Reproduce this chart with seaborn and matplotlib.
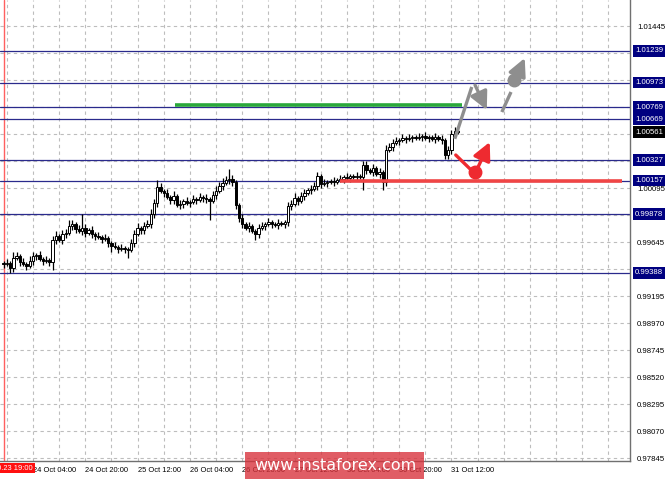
import numpy as np
import pandas as pd
import matplotlib
matplotlib.use('Agg')
import matplotlib.pyplot as plt
import seaborn as sns

# H1 closes, EUR-like pair, bar 0 = 23 Oct 19:00
first_open = 0.99470
closes = [
    0.99462, 0.99470, 0.99428, 0.99512, 0.99528, 0.99478, 0.99462, 0.99445, 0.99487, 0.99528,
    0.99537, 0.99503, 0.99487, 0.99495, 0.99478, 0.99662, 0.99695, 0.99662, 0.99712, 0.99720,
    0.99778, 0.99795, 0.99753, 0.99737, 0.99762, 0.99720, 0.99745, 0.99712, 0.99695, 0.99687,
    0.99670, 0.99678, 0.99637, 0.99612, 0.99603, 0.99587, 0.99595, 0.99587, 0.99578, 0.99637,
    0.99712, 0.99762, 0.99745, 0.99778, 0.99795, 0.99878, 0.99970, 1.00103, 1.00070, 1.00053,
    1.00020, 0.99995, 1.00028, 0.99953, 0.99962, 0.99987, 0.99970, 0.99978, 1.00003, 0.99995,
    1.00020, 1.00012, 1.00003, 0.99987, 1.00037, 1.00070, 1.00112, 1.00137, 1.00162, 1.00170,
    1.00145, 0.99953, 0.99845, 0.99795, 0.99762, 0.99778, 0.99737, 0.99712, 0.99762, 0.99778,
    0.99795, 0.99812, 0.99795, 0.99787, 0.99803, 0.99795, 0.99812, 0.99945, 0.99962, 1.00012,
    0.99987, 1.00028, 1.00053, 1.00078, 1.00087, 1.00112, 1.00195, 1.00128, 1.00137, 1.00145,
    1.00153, 1.00145, 1.00162, 1.00170, 1.00187, 1.00178, 1.00195, 1.00187, 1.00195, 1.00187,
    1.00287, 1.00245, 1.00228, 1.00262, 1.00212, 1.00228, 1.00145, 1.00412, 1.00437, 1.00470,
    1.00487, 1.00495, 1.00511, 1.00503, 1.00511, 1.00520, 1.00511, 1.00520, 1.00528, 1.00511,
    1.00520, 1.00503, 1.00520, 1.00503, 1.00495, 1.00370, 1.00412, 1.00545, 1.00570, 1.00561,
]
# wick lengths in pips
upper_wick = [
    2, 3, 2, 5, 3, 2, 3, 2, 4, 3,
    2, 3, 2, 3, 2, 3, 4, 2, 3, 3,
    5, 3, 2, 3, 12, 3, 2, 3, 2, 3,
    2, 3, 2, 2, 3, 2, 3, 2, 2, 3,
    3, 4, 2, 3, 3, 4, 3, 6, 3, 2,
    3, 2, 4, 2, 3, 2, 3, 2, 3, 2,
    3, 2, 3, 2, 3, 4, 3, 4, 3, 8,
    3, 2, 2, 3, 2, 3, 2, 2, 3, 3,
    2, 3, 2, 2, 3, 2, 2, 3, 3, 4,
    2, 3, 3, 2, 3, 3, 3, 2, 3, 2,
    2, 3, 2, 3, 2, 3, 2, 2, 3, 2,
    3, 3, 2, 3, 2, 3, 2, 4, 3, 3,
    3, 2, 3, 2, 3, 2, 2, 3, 2, 3,
    2, 2, 3, 2, 3, 2, 3, 3, 3, 2,
]
lower_wick = [
    3, 2, 4, 3, 2, 3, 2, 3, 2, 3,
    3, 2, 3, 2, 3, 7, 3, 2, 3, 3,
    2, 3, 3, 2, 3, 3, 2, 3, 3, 2,
    3, 2, 3, 5, 2, 3, 2, 3, 7, 2,
    3, 2, 3, 3, 2, 3, 3, 3, 2, 3,
    2, 3, 3, 2, 3, 3, 2, 3, 2, 3,
    2, 3, 3, 16, 2, 3, 2, 3, 2, 3,
    3, 3, 3, 3, 2, 3, 2, 5, 3, 2,
    3, 2, 3, 2, 3, 2, 3, 3, 3, 2,
    3, 2, 3, 2, 3, 2, 3, 3, 2, 3,
    2, 3, 2, 2, 3, 2, 3, 2, 3, 2,
    11, 3, 2, 3, 2, 3, 7, 3, 2, 3,
    2, 3, 2, 3, 2, 3, 2, 2, 3, 2,
    3, 2, 3, 2, 3, 3, 3, 3, 2, 2,
]

# x labels (every 16 bars starting at bar 9)
time_labels = ['24 Oct 04:00', '24 Oct 20:00', '25 Oct 12:00', '26 Oct 04:00', '26 Oct 20:00',
               '27 Oct 12:00', '30 Oct 04:00', '30 Oct 20:00', '31 Oct 12:00']
price_ticks = [0.97845, 0.98070, 0.98295, 0.98520, 0.98745, 0.98970, 0.99195, 0.99420, 0.99645,
               0.99870, 1.00095, 1.00320, 1.00545, 1.00770, 1.00995, 1.01220, 1.01445]

# support / resistance levels
levels = [1.01239, 1.00973, 1.00769, 1.00669, 1.00327, 1.00157, 0.99878, 0.99388]
current_price = 1.00561

# drawn objects: green / red segments and forecast paths (bar, price)
green_level = 1.00785
green_span = [52.4, 140.2]
red_level = 1.00157
red_span = [102.9, 189.1]
grey_leg1 = [(138.0, 1.00505), (143.2, 1.00937)]
grey_leg2 = [(144.2, 1.00953), (147.8, 1.00745)]
grey_leg3 = [(152.4, 1.00728), (155.2, 1.00895)]
grey_dot = (156.1, 1.00995)
grey_leg4 = [(156.7, 1.01012), (159.4, 1.01178)]
red_leg1 = [(138.3, 1.00370), (143.5, 1.00232)]
red_dot = (144.2, 1.00228)
red_leg2 = [(144.8, 1.00250), (148.7, 1.00478)]

# Build the OHLC table
df = pd.DataFrame({'close': closes})
df['open'] = [first_open] + closes[:-1]
df['bar'] = np.arange(len(df))
df['top'] = df[['open', 'close']].max(axis=1)
df['bot'] = df[['open', 'close']].min(axis=1)
df['high'] = df['top'] + np.array(upper_wick) * 0.0001
df['low'] = df['bot'] - np.array(lower_wick) * 0.0001
df['bull'] = df['close'] >= df['open']

sns.set_theme(style='white')
plt.rcParams['font.family'] = ['Liberation Sans', 'DejaVu Sans']

fig = plt.figure(figsize=(6.65, 4.79), dpi=100, facecolor='white')
ax = fig.add_axes([0, 18 / 479, 630 / 665, 461 / 479])
ax.set_facecolor('white')

# Grid
ax.set_yticks(price_ticks)
ax.set_yticklabels([f'{p:.5f}' for p in price_ticks])
ax.set_xticks([9 + 16 * k for k in range(len(time_labels))])
ax.set_xticklabels(time_labels)
ax.set_xticks(np.arange(1, 195, 8), minor=True)
ax.grid(True, which='both', axis='x', color='#bdbdbd', ls=(0, (3, 3)), lw=0.8, zorder=0)
ax.grid(True, which='major', axis='y', color='#bdbdbd', ls=(0, (3, 3)), lw=0.8, zorder=0)

# crosshair line at bar 0
ax.axvline(0, color='#ff6060', lw=1.0, zorder=1)

# Levels
for lv in levels:
    ax.axhline(lv, color='#2a2a8c', lw=0.9, zorder=2)

# Candles
ax.vlines(df['bar'], df['low'], df['high'], color='black', lw=0.9, zorder=3)
heights = np.maximum(df['top'] - df['bot'], 0.00004)
ax.bar(df['bar'], heights, bottom=df['bot'], width=0.72,
       color=np.where(df['bull'], 'white', 'black'), edgecolor='black', linewidth=0.7, zorder=4)

# Green and red horizontal segments
ax.hlines(green_level, green_span[0], green_span[1], color='#2aa83a', lw=2.6, zorder=5)
ax.hlines(red_level, red_span[0], red_span[1], color='#f04545', lw=2.6, zorder=5)

# Forecast paths
grey = '#8e8e8e'
red = '#ee2a30'
for leg in [grey_leg1, grey_leg3]:
    ax.plot([leg[0][0], leg[1][0]], [leg[0][1], leg[1][1]], color=grey, lw=2.4, solid_capstyle='butt', zorder=6)
for leg in [grey_leg2, grey_leg4]:
    ax.annotate('', xy=leg[1], xytext=leg[0],
                arrowprops=dict(arrowstyle='-|>,head_length=0.9,head_width=0.45', color=grey, lw=2.4,
                                shrinkA=0, shrinkB=0), zorder=6)
ax.plot(*grey_dot, 'o', color=grey, ms=9, zorder=6)
ax.plot([red_leg1[0][0], red_leg1[1][0]], [red_leg1[0][1], red_leg1[1][1]], color=red, lw=2.4, zorder=6)
ax.annotate('', xy=red_leg2[1], xytext=red_leg2[0],
            arrowprops=dict(arrowstyle='-|>,head_length=0.9,head_width=0.45', color=red, lw=2.4,
                            shrinkA=0, shrinkB=0), zorder=6)
ax.plot(*red_dot, 'o', color=red, ms=9, zorder=6)

# Axis limits and styling
ax.set_xlim(-1.1, 191.6)
ax.set_ylim(0.97820, 1.016617)
ax.yaxis.tick_right()
sns.despine(ax=ax, left=True, top=True, right=False, bottom=False)
for side in ['right', 'bottom']:
    ax.spines[side].set_color('#707070')
    ax.spines[side].set_linewidth(1.0)
ax.tick_params(axis='y', which='major', direction='out', length=3, width=0.7, color='#555555',
               labelsize=5.6, pad=2, labelcolor='black')
ax.tick_params(axis='x', which='major', direction='out', length=3, width=0.7, color='#555555',
               labelsize=5.4, pad=1.5, labelcolor='black')
ax.tick_params(axis='x', which='minor', length=0)
for lab in ax.get_xticklabels():
    lab.set_horizontalalignment('left')

# Level price tags
ytrans = ax.get_yaxis_transform()
for lv in levels:
    ax.text(1.008, lv, f'{lv:.5f}', transform=ytrans, ha='left', va='center', fontsize=5.6,
            color='white', clip_on=False, zorder=10,
            bbox=dict(boxstyle='square,pad=0.3', fc='#000080', ec='none'))
ax.text(1.008, current_price, f'{current_price:.5f}', transform=ytrans, ha='left', va='center',
        fontsize=5.6, color='white', clip_on=False, zorder=10,
        bbox=dict(boxstyle='square,pad=0.3', fc='black', ec='none'))

# Crosshair time tag
fig.text(33 / 665, 1 - 468 / 479, '2017.10.23 19:00', ha='right', va='center', fontsize=5.4,
         color='white', bbox=dict(boxstyle='square,pad=0.2', fc='#ff1010', ec='none'))

# Watermark
fig.patches.append(plt.Rectangle((245 / 665, 0), 179 / 665, 27 / 479, transform=fig.transFigure,
                                 facecolor='#d8303a', alpha=0.78, edgecolor='none', zorder=20))
fig.text(335 / 665, 13.5 / 479, 'www.instaforex.com', ha='center', va='center', fontsize=11.5,
         color='white', family='DejaVu Sans', zorder=21)

fig.savefig('out.png', dpi=100)
